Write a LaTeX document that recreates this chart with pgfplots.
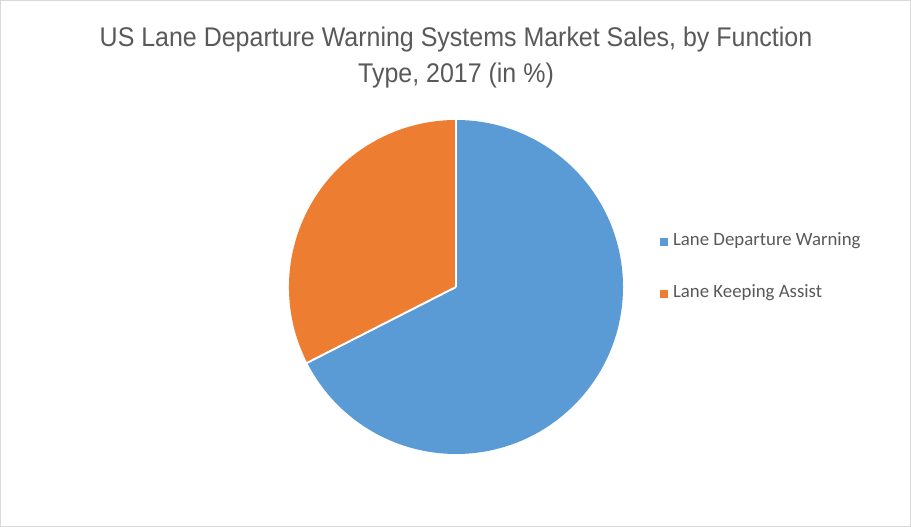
\documentclass[border=0pt]{standalone}
\usepackage{pgfplots}
\pgfplotsset{compat=1.18}
\usepackage{pgfplotstable}
\usepackage{fontspec}
\setmainfont{Carlito}
\newfontfamily\titlefont{Liberation Sans}[FakeStretch=0.925]

\definecolor{ldw}{HTML}{5B9BD5}
\definecolor{lka}{HTML}{ED7D31}
\definecolor{txt}{HTML}{595959}
\definecolor{frame}{HTML}{D9D9D9}

% market share by function type, %
\pgfplotstableread{
share
67.5
32.5
}\piedata

\begin{document}
\begin{tikzpicture}
\pgfplotstablegetelem{0}{share}\of\piedata
\pgfmathsetmacro{\cut}{90-3.6*\pgfplotsretval}
\begin{axis}[
    width=911bp, height=527bp, scale only axis,
    xmin=0, xmax=911, ymin=0, ymax=527,
    hide axis, clip=false,
    legend style={at={(axis cs:657,259)}, anchor=west, draw=none, fill=none,
      font=\fontsize{18.8bp}{20bp}\selectfont, text=txt, row sep=36bp,
      nodes={inner sep=0pt, inner xsep=3.5bp, text height=12bp, text depth=4bp}},
    legend cell align=left,
    legend image code/.code={\fill[#1] (0bp,-3.5bp) rectangle (7bp,3.5bp); \path (9bp,0bp);},
  ]
\fill[white] (axis cs:0,0) rectangle (axis cs:911,527);
\draw[frame] (axis cs:0.5,0.5) rectangle (axis cs:910.5,526.5);

\fill[ldw] (axis cs:456,240) -- ++(90:167bp) arc[start angle=90, end angle=\cut, radius=167bp] -- cycle;
\fill[lka] (axis cs:456,240) -- ++(\cut:167bp) arc[start angle=\cut, end angle=-270, radius=167bp] -- cycle;
\draw[white, line width=2bp] (axis cs:456,240) -- ++(90:168bp);
\draw[white, line width=2bp] (axis cs:456,240) -- ++(\cut:168bp);

\node[anchor=base, text=txt, font=\titlefont\fontsize{27bp}{30bp}\selectfont] at (axis cs:456,480)
  {US Lane Departure Warning Systems Market Sales, by Function};
\node[anchor=base, text=txt, font=\titlefont\fontsize{27bp}{30bp}\selectfont] at (axis cs:456,444)
  {Type, 2017 (in \%)};

\addlegendimage{ldw}
\addlegendentry{Lane Departure Warning}
\addlegendimage{lka}
\addlegendentry{Lane Keeping Assist}
\end{axis}
\end{tikzpicture}
\end{document}
